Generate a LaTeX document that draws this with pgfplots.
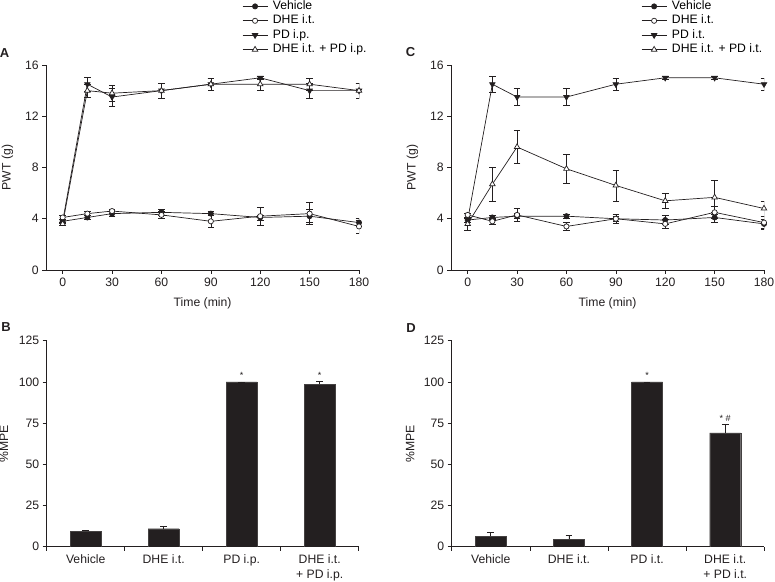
\documentclass[border=0pt]{standalone}
\usepackage{fontspec}
\setmainfont{Liberation Sans}
\usepackage{pgfplots}
\pgfplotsset{compat=1.18}
\definecolor{ink}{HTML}{231F20}

\newcommand{\fs}{\fontsize{12.2}{15}\selectfont}

\pgfplotsset{
  panel/.style={
    scale only axis, anchor=south west,
    axis x line*=bottom, axis y line*=left,
    tick align=outside, major tick length=4pt,
    every tick/.style={ink, line width=0.6pt},
    axis line style={ink, line width=0.6pt},
    tick label style={font=\fs, text=ink},
    label style={font=\fs, text=ink},
    /pgf/number format/assume math mode=true,
  },
  linepanel/.style={
    panel, width=312.8pt, height=205pt,
    xmin=-10, xmax=180, ymin=0, ymax=16,
    xtick={0,30,...,180}, ytick={0,4,...,16},
    xlabel={Time (min)}, ylabel={PWT (g)},
    x label style={at={(axis description cs:0.5,-0.165)}, anchor=center},
    y label style={at={(axis description cs:-0.124,0.5)}, anchor=center},
    legend style={draw=none, fill=none, font=\fs, anchor=north west,
      row sep=0pt, inner sep=0pt, column sep=4pt,
      nodes={inner sep=1pt, text height=9.2pt, text depth=3.2pt}},
    legend cell align=left,
    legend image code/.code={
      \draw[mark repeat=2, mark phase=2] plot coordinates {(0pt,0pt) (12.5pt,0pt) (25pt,0pt)};},
  },
  barpanel/.style={
    panel, height=206pt,
    xmin=0.5, xmax=4.5, ymin=0, ymax=125,
    ytick={0,25,...,125},
    xtick={0.5,1.5,2.5,3.5,4.5}, xticklabels={},
    extra x ticks={1,2,3,4},
    extra x tick style={major tick length=0pt,
      tick label style={align=center, font=\fs, text=ink, anchor=north, yshift=-4.5pt}},
    ylabel={\%MPE},
    ybar, bar width=31pt, bar shift=0pt,
  },
  ser/.style={ink, line width=0.7pt, mark size=2.6pt,
    error bars/y dir=both, error bars/y explicit,
    error bars/error bar style={ink, line width=0.6pt},
    error bars/error mark options={rotate=90, mark size=3.3pt, ink, line width=0.6pt}},
  veh/.style={ser, mark=*, mark options={fill=ink, solid}},
  dhe/.style={ser, mark=*, mark options={fill=white, solid}},
  pd/.style={ser, mark=triangle*, mark options={fill=ink, rotate=180, mark size=3.2pt}},
  combo/.style={ser, mark=triangle*, mark options={fill=white, mark size=3.2pt}},
  barser/.style={fill=ink, draw=ink!85,
    error bars/y dir=plus, error bars/y explicit,
    error bars/error bar style={ink, line width=0.6pt},
    error bars/error mark options={rotate=90, mark size=3.3pt, ink, line width=0.6pt}},
}

\begin{document}
\begin{tikzpicture}[x=1pt, y=1pt]
\useasboundingbox (0,0) rectangle (775,581);

% ---------- A ----------
\begin{axis}[linepanel, at={(46.2pt,311pt)},
  legend style={at={(axis description cs:0.626,1.322)}}]
\addplot[veh] coordinates {
  (0,3.8) +- (0,0.15) (15,4.1) +- (0,0.15) (30,4.4) +- (0,0.2) (60,4.5) +- (0,0.2)
  (90,4.4) +- (0,0.15) (120,4.1) +- (0,0.2) (150,4.2) +- (0,0.5) (180,3.7) +- (0,0.3)};
\addplot[dhe] coordinates {
  (0,4.1) +- (0,0.15) (15,4.4) +- (0,0.15) (30,4.6) +- (0,0.15) (60,4.3) +- (0,0.25)
  (90,3.8) +- (0,0.5) (120,4.2) +- (0,0.7) (150,4.4) +- (0,0.85) (180,3.4) +- (0,0.5)};
\addplot[pd] coordinates {
  (0,3.8) +- (0,0.15) (15,14.5) +- (0,0.55) (30,13.5) +- (0,0.7) (60,14.0) +- (0,0.6)
  (90,14.5) +- (0,0.5) (120,15.0) +- (0,0.15) (150,14.0) +- (0,0.6) (180,14.0) +- (0,0.6)};
\addplot[combo] coordinates {
  (0,3.6) +- (0,0.15) (15,14.0) +- (0,0.5) (30,13.8) +- (0,0.6) (60,14.0) +- (0,0.6)
  (90,14.5) +- (0,0.5) (120,14.5) +- (0,0.5) (150,14.5) +- (0,0.5) (180,14.0) +- (0,0.6)};
\legend{Vehicle, DHE i.t., PD i.p., DHE i.t. + PD i.p.}
\end{axis}

% ---------- C ----------
\begin{axis}[linepanel, at={(451.2pt,311pt)},
  legend style={at={(axis description cs:0.607,1.322)}}]
\addplot[veh] coordinates {
  (0,3.9) +- (0,0.2) (15,4.1) +- (0,0.15) (30,4.2) +- (0,0.2) (60,4.2) +- (0,0.15)
  (90,4.0) +- (0,0.2) (120,3.9) +- (0,0.35) (150,4.1) +- (0,0.4) (180,3.6) +- (0,0.35)};
\addplot[dhe] coordinates {
  (0,4.3) +- (0,0.15) (15,3.8) +- (0,0.2) (30,4.3) +- (0,0.5) (60,3.4) +- (0,0.3)
  (90,4.0) +- (0,0.35) (120,3.6) +- (0,0.35) (150,4.5) +- (0,0.5) (180,3.7) +- (0,0.5)};
\addplot[pd] coordinates {
  (0,3.9) +- (0,0.15) (15,14.5) +- (0,0.6) (30,13.5) +- (0,0.65) (60,13.5) +- (0,0.65)
  (90,14.5) +- (0,0.5) (120,15.0) +- (0,0.1) (150,15.0) +- (0,0.1) (180,14.5) +- (0,0.5)};
\addplot[combo] coordinates {
  (0,3.6) +- (0,0.5) (15,6.7) +- (0,1.3) (30,9.6) +- (0,1.3) (60,7.9) +- (0,1.15)
  (90,6.6) +- (0,1.2) (120,5.4) +- (0,0.6) (150,5.67) +- (0,1.3) (180,4.8) +- (0,0.6)};
\legend{Vehicle, DHE i.t., PD i.t., DHE i.t. + PD i.t.}
\end{axis}

% ---------- B ----------
\begin{axis}[barpanel, at={(46.7pt,34.3pt)}, width=312pt,
  extra x tick labels={Vehicle, DHE i.t., PD i.p., DHE i.t.\\+ PD i.p.},
  y label style={at={(axis description cs:-0.137,0.5)}, anchor=center}]
\addplot[barser] coordinates {
  (1,9.5) +- (0,0.6) (2,10.9) +- (0,1.5) (3,100) +- (0,0) (4,98.5) +- (0,1.6)};
\node[font=\fontsize{9}{10}\selectfont, text=ink] at (axis cs:3,104) {*};
\node[font=\fontsize{9}{10}\selectfont, text=ink] at (axis cs:4,104) {*};
\end{axis}

% ---------- D ----------
\begin{axis}[barpanel, at={(451.7pt,34.3pt)}, width=312.6pt,
  extra x tick labels={Vehicle, DHE i.t., PD i.t., DHE i.t.\\+ PD i.t.},
  y label style={at={(axis description cs:-0.133,0.5)}, anchor=center}]
\addplot[barser] coordinates {
  (1,6.3) +- (0,2.4) (2,4.45) +- (0,2.6) (3,100) +- (0,0) (4,69) +- (0,5.2)};
\node[font=\fontsize{9}{10}\selectfont, text=ink] at (axis cs:3,104) {*};
\node[font=\fontsize{9}{10}\selectfont, text=ink] at (axis cs:4,78) {* \#};
\end{axis}

% panel letters
\node[font=\fontsize{13}{14}\selectfont\bfseries, text=ink] at (4.5,528.3) {A};
\node[font=\fontsize{13}{14}\selectfont\bfseries, text=ink] at (410.5,529) {C};
\node[font=\fontsize{13}{14}\selectfont\bfseries, text=ink] at (6,254.3) {B};
\node[font=\fontsize{13}{14}\selectfont\bfseries, text=ink] at (411,253) {D};
\end{tikzpicture}
\end{document}
